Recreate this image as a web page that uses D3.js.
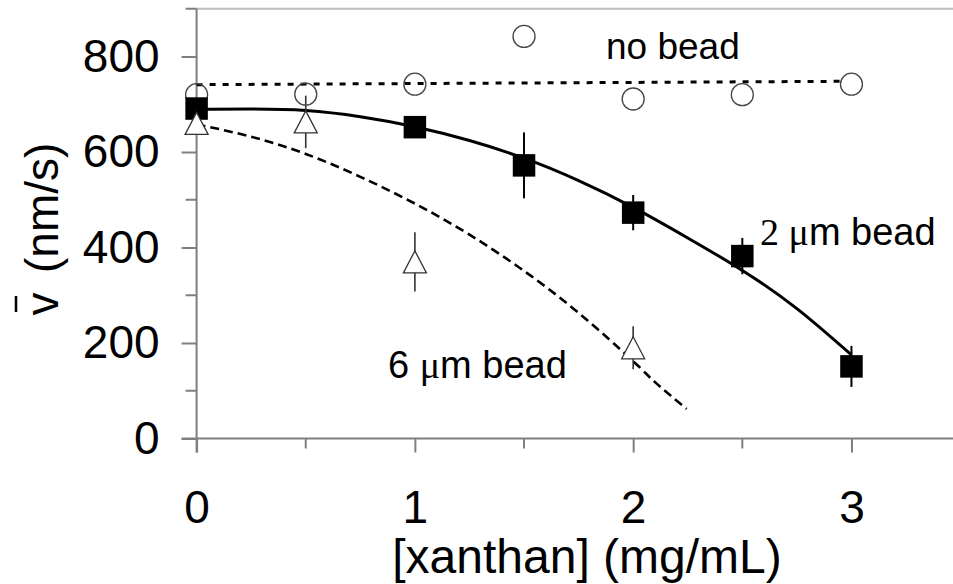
<!DOCTYPE html>
<html>
<head>
<meta charset="utf-8">
<script src="https://cdn.jsdelivr.net/npm/d3@7/dist/d3.min.js"></script>
<style>
  html, body { margin: 0; padding: 0; background: #fff; }
  svg { display: block; font-family: "Liberation Sans", Arial, sans-serif; }
</style>
</head>
<body>
<svg id="chart" width="953" height="584"></svg>
<script>
// Mean velocity vs xanthan concentration for three bead conditions
const xTicks = [0, 1, 2, 3];
const yTicks = [0, 200, 400, 600, 800];

// no bead (open circles)
const noBeadX = [0, 0.5, 1, 1.5, 2, 2.5, 3];
const noBeadV = [720, 721, 742, 842, 711, 720, 742];
// linear trend for no bead (dotted)
const noBeadFitX = [0, 2.95];
const noBeadFitV = [741, 748];

// 2 µm bead (filled squares)
const bead2X = [0, 1, 1.5, 2, 2.5, 3];
const bead2V = [691, 652, 572, 473, 382, 151];
const bead2Err = [0, 0, 69, 37, 38, 43];
// fitted curve for 2 µm bead (solid)
const bead2FitX = [0, 0.25, 0.5, 0.75, 1.0, 1.25, 1.5, 1.75, 2.0, 2.25, 2.5, 2.75, 3.0];
const bead2FitV = [689, 690, 687, 674, 653, 624, 587, 540, 484, 420, 352, 272, 175];

// 6 µm bead (open triangles)
const bead6X = [0, 0.5, 1, 2];
const bead6V = [660, 663, 370, 190];
const bead6Err = [0, 55, 62, 45];
// fitted curve for 6 µm bead (dashed)
const bead6FitX = [0, 0.25, 0.5, 0.75, 1.0, 1.25, 1.5, 1.75, 2.0, 2.1, 2.245];
const bead6FitV = [658, 632, 596, 548, 492, 427, 351, 263, 162, 118, 62];

const svg = d3.select("#chart");
const x = d3.scaleLinear().domain([0, 3.5]).range([196.6, 960.6]);
const y = d3.scaleLinear().domain([0, 900]).range([438.5, 8.75]);

const axisColor = "#7f7f7f";

// top frame line
svg.append("line")
  .attr("x1", x(0)).attr("x2", 953)
  .attr("y1", y(900)).attr("y2", y(900))
  .attr("stroke", "#bdbdbd").attr("stroke-width", 2);

// y axis
const yAxis = d3.axisLeft(y).tickValues(yTicks).tickSize(15).tickPadding(22).tickFormat(d3.format("d"));
const gy = svg.append("g").attr("transform", `translate(${x(0)},0)`).call(yAxis);
gy.select(".domain").remove();
gy.selectAll(".tick line").attr("stroke", axisColor).attr("stroke-width", 2);
gy.selectAll(".tick text").attr("font-size", 46).attr("fill", "#000")
  .attr("font-family", "Liberation Sans, Arial, sans-serif");
const yMinor = d3.range(100, 1000, 200);
svg.append("g").selectAll("line").data(yMinor).join("line")
  .attr("x1", x(0) - 11).attr("x2", x(0))
  .attr("y1", d => y(d)).attr("y2", d => y(d))
  .attr("stroke", axisColor).attr("stroke-width", 2);
svg.append("line")
  .attr("x1", x(0)).attr("x2", x(0))
  .attr("y1", y(900)).attr("y2", y(0) + 14)
  .attr("stroke", axisColor).attr("stroke-width", 2);

// x axis
const xAxis = d3.axisBottom(x).tickValues(xTicks).tickSize(14).tickPadding(38).tickFormat(d3.format("d"));
const gx = svg.append("g").attr("transform", `translate(0,${y(0)})`).call(xAxis);
gx.select(".domain").remove();
gx.selectAll(".tick line").attr("stroke", axisColor).attr("stroke-width", 2);
gx.selectAll(".tick text").attr("font-size", 46).attr("fill", "#000")
  .attr("font-family", "Liberation Sans, Arial, sans-serif");
const xMinor = [0.5, 1.5, 2.5];
svg.append("g").selectAll("line").data(xMinor).join("line")
  .attr("x1", d => x(d)).attr("x2", d => x(d))
  .attr("y1", y(0)).attr("y2", y(0) + 10)
  .attr("stroke", axisColor).attr("stroke-width", 2);
svg.append("line")
  .attr("x1", x(0) - 15).attr("x2", 953)
  .attr("y1", y(0)).attr("y2", y(0))
  .attr("stroke", axisColor).attr("stroke-width", 2);

// axis titles
svg.append("text")
  .attr("x", 587).attr("y", 573)
  .attr("text-anchor", "middle")
  .attr("font-size", 48)
  .text("[xanthan] (mg/mL)");

const yl = svg.append("g").attr("transform", "translate(58,225) rotate(-90)");
yl.append("text").attr("x", -79).attr("y", 0).attr("text-anchor", "middle")
  .attr("font-size", 46).text("v");
yl.append("line").attr("x1", -87).attr("x2", -71).attr("y1", -42).attr("y2", -42)
  .attr("stroke", "#000").attr("stroke-width", 2.5);
yl.append("text").attr("x", -48).attr("y", 0).attr("text-anchor", "start")
  .attr("font-size", 46).text("(nm/s)");

// fitted lines
const line = d3.line().x(d => x(d[0])).y(d => y(d[1])).curve(d3.curveNatural);

svg.append("path")
  .datum(d3.zip(noBeadFitX, noBeadFitV))
  .attr("d", d3.line().x(d => x(d[0])).y(d => y(d[1])))
  .attr("fill", "none").attr("stroke", "#000").attr("stroke-width", 3)
  .attr("stroke-dasharray", "6,7");

svg.append("path")
  .datum(d3.zip(bead2FitX, bead2FitV))
  .attr("d", line)
  .attr("fill", "none").attr("stroke", "#000").attr("stroke-width", 3);

svg.append("path")
  .datum(d3.zip(bead6FitX, bead6FitV))
  .attr("d", line)
  .attr("fill", "none").attr("stroke", "#000").attr("stroke-width", 2.6)
  .attr("stroke-dasharray", "9,5");

// error bars
const errData = [
  ...bead2X.map((d, i) => ({ x: d, v: bead2V[i], e: bead2Err[i], c: "#000", w: 2 })),
  ...bead6X.map((d, i) => ({ x: d, v: bead6V[i], e: bead6Err[i], c: "#333", w: 1.6 }))
].filter(d => d.e > 0);
svg.append("g").selectAll("line").data(errData).join("line")
  .attr("x1", d => x(d.x)).attr("x2", d => x(d.x))
  .attr("y1", d => y(d.v + d.e)).attr("y2", d => y(d.v - d.e))
  .attr("stroke", d => d.c).attr("stroke-width", d => d.w);

// no bead markers
svg.append("g").selectAll("circle").data(d3.zip(noBeadX, noBeadV)).join("circle")
  .attr("cx", d => x(d[0])).attr("cy", d => y(d[1])).attr("r", 11)
  .attr("fill", "none").attr("stroke", "#444").attr("stroke-width", 1.3);

// 2 µm bead markers
const sq = 22.5;
svg.append("g").selectAll("rect").data(d3.zip(bead2X, bead2V)).join("rect")
  .attr("x", d => x(d[0]) - sq / 2).attr("y", d => y(d[1]) - sq / 2)
  .attr("width", sq).attr("height", sq).attr("fill", "#000");

// 6 µm bead markers
const tw = 23, th = 22;
svg.append("g").selectAll("path").data(d3.zip(bead6X, bead6V)).join("path")
  .attr("d", d => {
    const cx = x(d[0]), cy = y(d[1]);
    return `M${cx},${cy - th / 2}L${cx + tw / 2},${cy + th / 2}L${cx - tw / 2},${cy + th / 2}Z`;
  })
  .attr("fill", "#fff").attr("stroke", "#333").attr("stroke-width", 1.3);

// series labels
svg.append("text").attr("x", 606).attr("y", 59).attr("font-size", 37).text("no bead");

const l2 = svg.append("text").attr("x", 760).attr("y", 245).attr("font-size", 38);
l2.append("tspan").attr("font-family", "Liberation Serif, Times New Roman, serif").text("2 \u03bc");
l2.append("tspan").text("m bead");

const l6 = svg.append("text").attr("x", 388).attr("y", 378).attr("font-size", 38);
l6.append("tspan").text("6 ");
l6.append("tspan").attr("font-family", "Liberation Serif, Times New Roman, serif").text("\u03bc");
l6.append("tspan").text("m bead");
</script>
</body>
</html>
